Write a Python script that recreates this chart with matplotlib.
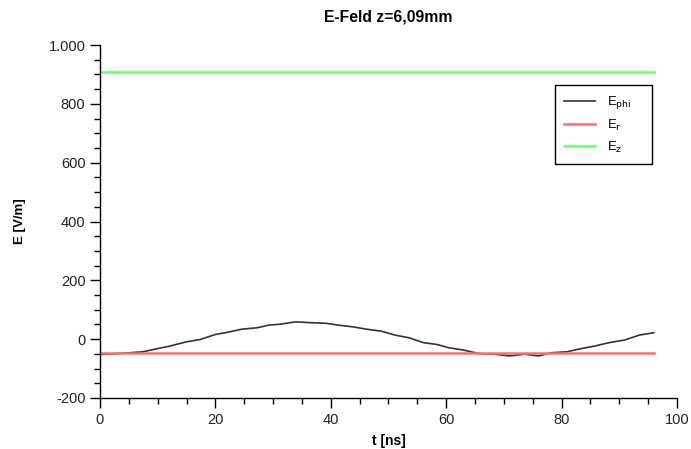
import matplotlib
matplotlib.use("Agg")
import matplotlib.pyplot as plt
from matplotlib.ticker import MultipleLocator

plt.rcParams['font.family'] = ['Liberation Sans', 'DejaVu Sans']

t_phi = [0, 3.1, 7.4, 10, 12, 15, 17.4, 20, 22, 24.6, 27.3, 29.3, 31.3, 33.9, 36.6,
         39.2, 41.2, 43.8, 46.2, 48.8, 51.1, 53.5, 56.1, 58.4, 60.4, 63, 65.7, 68.3,
         71, 73.6, 76, 78.3, 80.9, 82.9, 85.6, 88.2, 90.9, 93.5, 96]
e_phi = [-52, -49, -43, -32, -24, -9, -1, 16, 23, 34, 39, 48, 51, 59, 56,
         54, 48, 42, 34, 27, 14, 5, -12, -18, -29, -37, -49, -51,
         -57, -51, -57, -46, -43, -34, -24, -12, -3, 14, 22]
t_const = [0, 96]
e_r = [-47, -47]
e_z = [908, 908]

yticks = [-200, 0, 200, 400, 600, 800, 1000]
ytick_labels = ['-200', '0', '200', '400', '600', '800', '1.000']
xticks = [0, 20, 40, 60, 80, 100]

fig = plt.figure(figsize=(6.91, 4.49), dpi=100)
ax = fig.add_axes([0.1447, 0.1136, 0.835, 0.786])

ax.plot(t_phi, e_phi, color='#333333', lw=1.2, label=r'E$_{\mathrm{phi}}$')
ax.plot(t_const, e_r, color='#ff6e6e', lw=1.8, label=r'E$_{\mathrm{r}}$')
ax.plot(t_const, e_z, color='#70ff70', lw=1.8, label=r'E$_{\mathrm{z}}$')

ax.set_xlim(0, 100)
ax.set_ylim(-200, 1000)
ax.set_xticks(xticks)
ax.set_yticks(yticks)
ax.set_yticklabels(ytick_labels)
ax.xaxis.set_minor_locator(MultipleLocator(5))
ax.yaxis.set_minor_locator(MultipleLocator(50))

for s in ['top', 'right']:
    ax.spines[s].set_visible(False)
for s in ['left', 'bottom']:
    ax.spines[s].set_linewidth(1.0)

ax.tick_params(which='major', direction='out', length=7, width=1, labelsize=10.5, colors='black')
ax.tick_params(which='minor', direction='out', length=4, width=1)
for lbl in ax.get_xticklabels() + ax.get_yticklabels():
    lbl.set_color('#222222')

ax.set_xlabel('t [ns]', fontsize=10, fontweight='bold', labelpad=5)
ax.set_ylabel('E [V/m]', fontsize=9.5, fontweight='bold', labelpad=16)
fig.text(388 / 691, 1 - 17 / 449, 'E-Feld z=6,09mm', fontsize=11.3, fontweight='bold',
         ha='center', va='center')

leg = ax.legend(loc='upper left', bbox_to_anchor=(0.7886, 0.6657, 0.168, 0.221),
                mode='expand', borderaxespad=0, fancybox=False,
                edgecolor='black', framealpha=1, fontsize=9.5, handlelength=2.35,
                handletextpad=0.9, borderpad=0.7, labelspacing=0.5)
leg.get_frame().set_linewidth(1.0)

fig.savefig('out.png', dpi=100)
